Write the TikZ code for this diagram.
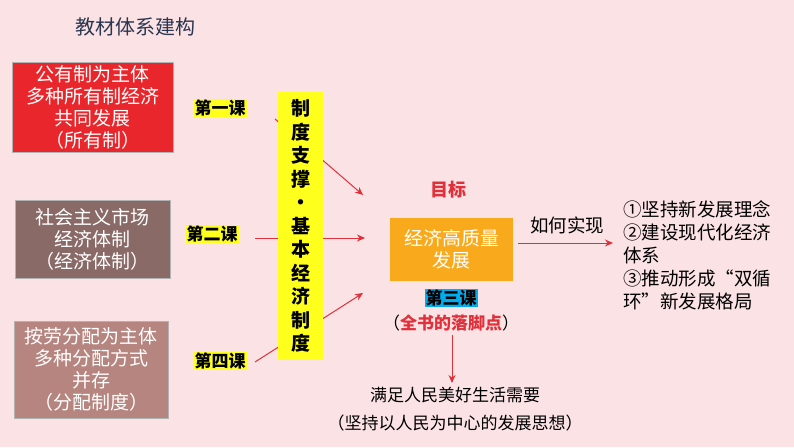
\documentclass[tikz,border=0pt]{standalone}
\usepackage{fontspec}
\setmainfont{Noto Sans CJK SC}
\usetikzlibrary{arrows.meta}
\definecolor{bg}{HTML}{FBE2E4}
\definecolor{rbox}{HTML}{E8262B}
\definecolor{gbox}{HTML}{8A6A67}
\definecolor{pbox}{HTML}{B6857F}
\definecolor{obox}{HTML}{F9AA1C}
\definecolor{ylw}{HTML}{FFFF1E}
\definecolor{arr}{HTML}{E0303A}
\definecolor{ttl}{HTML}{2A3550}
\tikzset{
 box/.style={draw=white!70!black, line width=0.4pt, text=white, align=center, font=\fontsize{19}{22}\selectfont, inner sep=0pt},
 lesson/.style={fill=ylw, inner sep=1pt, font=\bfseries\fontsize{17}{19}\selectfont},
 arrowline/.style={draw=arr, line width=1pt, -{Stealth[length=8pt,width=7pt]}},
 txt/.style={align=left, font=\fontsize{18.5}{23}\selectfont, inner sep=0pt}
}
\begin{document}
\begin{tikzpicture}[x=1pt,y=-1pt]
\fill[bg] (0,0) rectangle (794,447);
\useasboundingbox (0,0) rectangle (794,447);
\node[font=\fontsize{20}{22}\selectfont, text=ttl] (title) at (135,27) {教材体系建构};
\node[box, fill=rbox, minimum width=161, minimum height=90] (b1) at (92.5,107) {公有制为主体\\多种所有制经济\\共同发展\\（所有制）};
\node[box, fill=gbox, minimum width=155, minimum height=78] (b2) at (92.5,239) {社会主义市场\\经济体制\\（经济体制）};
\node[box, fill=pbox, minimum width=154, minimum height=97] (b3) at (91,369.5) {按劳分配为主体\\多种分配方式\\并存\\（分配制度）};
\coordinate (s1) at (275,119);
\coordinate (e1) at (363,195);
\coordinate (s2) at (255,238);
\coordinate (e2) at (365,238);
\coordinate (s3) at (255,362);
\coordinate (e3) at (363,293);
\draw[arrowline] (s1) -- (e1);
\draw[arrowline] (s2) -- (e2);
\draw[arrowline] (s3) -- (e3);
\node[fill=ylw, minimum width=45, minimum height=268, inner sep=0pt, align=center, font=\bfseries\fontsize{19}{23.5}\selectfont] (y) at (300.5,226) {制\\度\\支\\撑\\·\\基\\本\\经\\济\\制\\度};
\node[lesson] (l1) at (220,108) {第一课};
\node[lesson] (l2) at (212,234) {第二课};
\node[lesson] (l4) at (220,361) {第四课};
\node[text=arr, font=\bfseries\fontsize{18}{20}\selectfont] (goal) at (448,190) {目标};
\node[box, fill=obox, draw=none, minimum width=123, minimum height=63] (core) at (451.5,249.5) {经济高质量\\发展};
\node[fill=cyan, inner sep=1pt, font=\bfseries\fontsize{17}{19}\selectfont] (l3) at (451,298) {第三课};
\node[font=\fontsize{17}{19}\selectfont] (foot) at (451,323) {（\textcolor{arr}{\bfseries 全书的落脚点}）};
\node[font=\fontsize{18.5}{20}\selectfont] (how) at (567,225) {如何实现};
\coordinate (h1) at (518,243);
\coordinate (h2) at (613,243);
\draw[arrowline] (h1) -- (h2);
\node[txt, anchor=north west] (list) at (623,200) {①坚持新发展理念\\②建设现代化经济\\体系\\③推动形成“双循\\环”新发展格局};
\coordinate (d1) at (452,335);
\coordinate (d2) at (452,383);
\draw[arrowline] (d1) -- (d2);
\node[align=center, font=\fontsize{17}{28}\selectfont] (need) at (455,409) {满足人民美好生活需要\\（坚持以人民为中心的发展思想）};
\end{tikzpicture}
\end{document}
